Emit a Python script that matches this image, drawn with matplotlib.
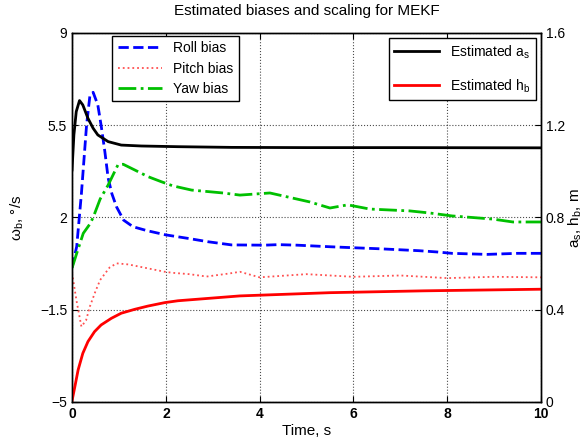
import numpy as np
import matplotlib
matplotlib.use("Agg")
import matplotlib.pyplot as plt

plt.rcParams['font.family'] = ['Liberation Sans', 'DejaVu Sans']

# roll bias, deg/s
t_roll = [0, 0.1, 0.2, 0.31, 0.38, 0.45, 0.55, 0.62, 0.7, 0.77, 0.85, 0.95, 1.1, 1.3, 1.6,
          2.0, 2.5, 2.9, 3.4, 4.1, 4.4, 4.8, 5.5, 5.9, 6.6, 7.4, 7.8, 8.1, 8.85, 9.5, 10]
roll = [0.1, 0.9, 2.9, 5.5, 6.6, 6.75, 6.27, 5.5, 4.5, 3.5, 2.9, 2.4, 1.9, 1.65, 1.5,
        1.34, 1.2, 1.08, 0.96, 0.95, 0.97, 0.95, 0.89, 0.86, 0.81, 0.74, 0.69, 0.64, 0.6, 0.64, 0.64]

# pitch bias, deg/s
t_pitch = [0, 0.1, 0.2, 0.3, 0.38, 0.5, 0.6, 0.8, 0.95, 1.2, 1.45, 1.98, 2.15, 2.5, 2.87,
           3.37, 3.58, 4.0, 5.0, 6.0, 7.0, 8.0, 9.0, 10]
pitch = [-0.1, -1.2, -2.14, -1.9, -1.38, -0.8, -0.37, 0.1, 0.26, 0.22, 0.13, -0.06, -0.1, -0.15, -0.24,
         -0.12, -0.06, -0.27, -0.15, -0.25, -0.2, -0.3, -0.25, -0.27]

# yaw bias, deg/s
t_yaw = [0, 0.1, 0.24, 0.38, 0.45, 0.6, 0.77, 0.98, 1.09, 1.34, 1.62, 1.9, 2.15, 2.55,
         3.22, 3.58, 4.22, 5.07, 5.5, 5.88, 6.35, 7.2, 7.63, 8.1, 8.97, 9.4, 10]
yaw = [0.08, 0.64, 1.4, 1.75, 2.0, 2.7, 3.23, 4.0, 4.02, 3.8, 3.55, 3.36, 3.2, 3.04,
       2.93, 2.85, 2.93, 2.59, 2.36, 2.48, 2.32, 2.25, 2.17, 2.06, 1.94, 1.83, 1.83]

# estimated scale factor a_s
t_as = [0, 0.04, 0.09, 0.16, 0.23, 0.34, 0.45, 0.55, 0.77, 1.05, 1.48, 2.26, 3.4, 5.0, 7.0, 10]
a_s = [1.006, 1.158, 1.259, 1.307, 1.288, 1.23, 1.187, 1.158, 1.129, 1.114, 1.11, 1.107,
       1.104, 1.103, 1.103, 1.102]

# estimated h_b, m
t_hb = [0, 0.06, 0.13, 0.23, 0.34, 0.48, 0.62, 0.84, 1.05, 1.34, 1.62, 1.98, 2.26,
        3.58, 5.5, 7.5, 10]
h_b = [0.005, 0.066, 0.139, 0.211, 0.262, 0.305, 0.334, 0.363, 0.385, 0.402, 0.416, 0.431, 0.439,
       0.46, 0.474, 0.482, 0.489]

fig = plt.figure(figsize=(5.86, 4.44), dpi=100)
ax = fig.add_axes([0.1229, 0.0946, 0.8003, 0.8311])
ax2 = ax.twinx()

ax.plot(t_roll, roll, '--', color='#0000ff', lw=2, label='Roll bias')
ax.plot(t_pitch, pitch, ':', color='#ff5050', lw=1.3, label='Pitch bias')
ax.plot(t_yaw, yaw, '-.', color='#00c000', lw=2, label='Yaw bias')

ax2.plot(t_as, a_s, '-', color='k', lw=2, label='Estimated a$_\\mathregular{s}$')
ax2.plot(t_hb, h_b, '-', color='#ff0000', lw=2, label='Estimated h$_\\mathregular{b}$')

ax.set_xlim(0, 10)
ax.set_ylim(-5, 9)
ax2.set_ylim(0, 1.6)
ax.set_xticks([0, 2, 4, 6, 8, 10])
ax.set_yticks([-5, -1.5, 2, 5.5, 9])
ax.set_yticklabels(['\u22125', '\u22121.5', '2', '5.5', '9'])
ax2.set_yticks([0, 0.4, 0.8, 1.2, 1.6])
ax2.set_yticklabels(['0', '0.4', '0.8', '1.2', '1.6'])

for lab in ax.get_xticklabels():
    lab.set_fontweight('bold')

ax.grid(True, linestyle=':', color='k', lw=0.8, alpha=0.7)
ax.tick_params(direction='in', labelsize=10, top=True, length=4)
ax2.tick_params(direction='in', labelsize=10, length=4)

ax.set_xlabel('Time, s', fontsize=11, labelpad=2)
ax.set_ylabel('\u03c9$_\\mathregular{b}$, \u00b0/s', fontsize=11, labelpad=10)
ax2.set_ylabel('a$_\\mathregular{s}$, h$_\\mathregular{b}$, m', fontsize=11, labelpad=1)
ax.set_title('Estimated biases and scaling for MEKF', fontsize=11, pad=13)

leg1 = ax.legend(loc='upper left', bbox_to_anchor=(0.08, 1.0), fontsize=10,
                 fancybox=False, edgecolor='k', framealpha=1, handlelength=3.2,
                 borderaxespad=0.2, labelspacing=0.45)
leg1.get_frame().set_linewidth(1)
leg2 = ax2.legend(loc='upper right', bbox_to_anchor=(0.995, 0.995), fontsize=10,
                  fancybox=False, edgecolor='k', framealpha=1, handlelength=3.2,
                  borderaxespad=0.2, labelspacing=1.2)
leg2.get_frame().set_linewidth(1)

for a in (ax, ax2):
    for s in a.spines.values():
        s.set_linewidth(1)

fig.savefig('out.png', dpi=100)
